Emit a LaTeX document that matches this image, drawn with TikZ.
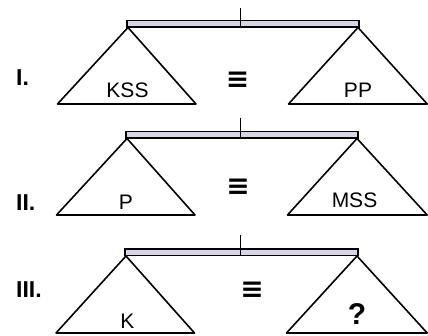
\documentclass[tikz,border=0pt]{standalone}
\usepackage{fontspec}
\setmainfont{Liberation Sans}
\newfontfamily\eqfont{DejaVu Sans}
\definecolor{beamfill}{HTML}{D8D3E6}
\tikzset{
  x=1pt, y=-1pt,
  beam/.style={draw=black, fill=beamfill, line width=1.4pt},
  tick/.style={draw=black, line width=1.5pt},
  pan/.style={draw=black, line width=1.6pt, line join=round},
  word/.style={inner sep=0pt, anchor=base, font=\fontsize{21}{24}\selectfont},
  rowlbl/.style={inner sep=0pt, anchor=base west, font=\fontsize{23}{26}\selectfont\bfseries},
  equiv/.style={inner sep=0pt, font=\fontsize{28}{30}\selectfont\eqfont\bfseries},
  qmark/.style={inner sep=0pt, anchor=base, font=\fontsize{30}{32}\selectfont\bfseries}
}
\begin{document}
\begin{tikzpicture}
\useasboundingbox (0,0) rectangle (428,336);
% ---------- Row I ----------
\draw[beam] (127,20.5) rectangle (359,27);
\coordinate (t1a) at (240.5,8);
\coordinate (t1b) at (240.5,27);
\draw[tick] (t1a) -- (t1b);
\coordinate (l1) at (128,27.5);
\coordinate (r1) at (358,27.5);
\draw[pan] (l1) -- (57.5,104) -- (196,104) -- cycle;
\draw[pan] (r1) -- (288.5,104) -- (427.2,104) -- cycle;
\node[rowlbl] (lab1) at (16,86) {I.};
\node[word] (kss) at (127.5,98) {KSS};
\node[word] (pp) at (358,98) {PP};
\node[equiv] (eq1) at (237.5,80) {≡};
% ---------- Row II ----------
\draw[beam] (126,131.5) rectangle (358,138);
\coordinate (t2a) at (240.5,118);
\coordinate (t2b) at (240.5,138);
\draw[tick] (t2a) -- (t2b);
\coordinate (l2) at (127,138.5);
\coordinate (r2) at (357,138.5);
\draw[pan] (l2) -- (56.5,215) -- (195,215) -- cycle;
\draw[pan] (r2) -- (287.5,215) -- (427.2,215) -- cycle;
\node[rowlbl] (lab2) at (16,211) {II.};
\node[word] (p) at (126,209.5) {P};
\node[word] (mss) at (354.5,208) {MSS};
\node[equiv] (eq2) at (238,187) {≡};
% ---------- Row III ----------
\draw[beam] (125,249) rectangle (358,255.5);
\coordinate (t3a) at (240.5,235);
\coordinate (t3b) at (240.5,255.5);
\draw[tick] (t3a) -- (t3b);
\coordinate (l3) at (126,256);
\coordinate (r3) at (357,256);
\draw[pan] (l3) -- (56,333) -- (194.5,333) -- cycle;
\draw[pan] (r3) -- (286.5,333) -- (427.2,333) -- cycle;
\node[rowlbl] (lab3) at (16,298) {III.};
\node[word] (k) at (127.5,328) {K};
\node[qmark] (q) at (357,324.5) {?};
\node[equiv] (eq3) at (252,290) {≡};
\end{tikzpicture}
\end{document}
